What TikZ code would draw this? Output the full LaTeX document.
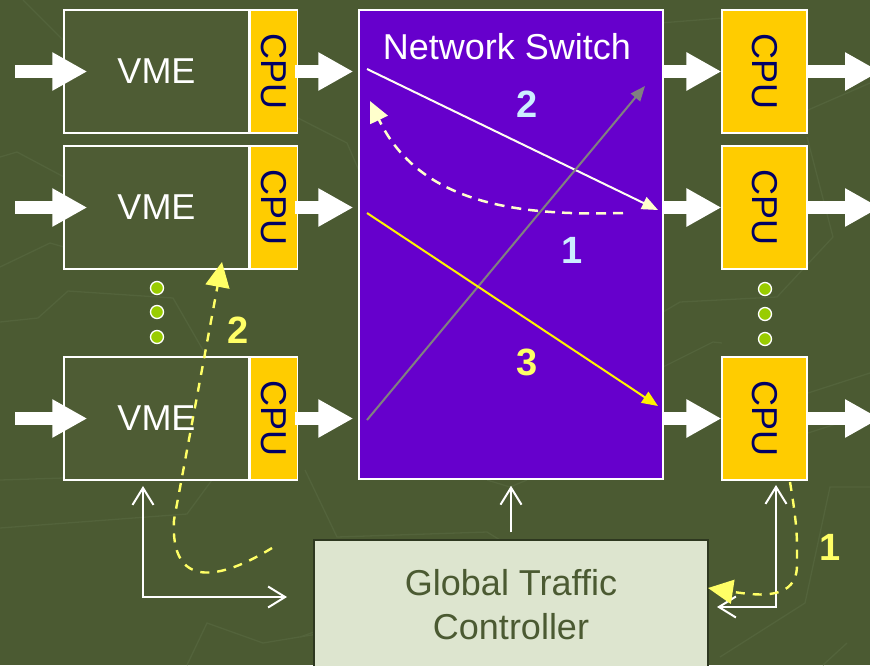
\documentclass[tikz,border=0pt]{standalone}
\usepackage{fontspec}
\usepackage{graphicx}
\setmainfont{Liberation Sans}
\usetikzlibrary{arrows.meta,calc}

\definecolor{olivebg}{HTML}{4B5A32}
\definecolor{olivebox}{HTML}{4E5C34}
\definecolor{olivetrace}{HTML}{53633B}
\definecolor{cpuyellow}{HTML}{FFCC00}
\definecolor{cpunavy}{HTML}{000066}
\definecolor{switchpurple}{HTML}{6600CC}
\definecolor{gtcfill}{HTML}{DDE5CF}
\definecolor{gtcedge}{HTML}{2E3820}
\definecolor{gtctext}{HTML}{4B5A32}
\definecolor{routeblue}{HTML}{CCEEFF}
\definecolor{routeyellow}{HTML}{FFFF66}
\definecolor{cream}{HTML}{FFFFCC}
\definecolor{dotgreen}{HTML}{99CC00}

\tikzset{
  bigfont/.style={font=\fontsize{36}{44}\selectfont},
  vmebox/.style={draw=white, line width=1.5pt, fill=olivebox, minimum width=185pt,
    minimum height=123pt, inner sep=0pt, text=white, bigfont},
  cpubox/.style={draw=white, line width=1.2pt, fill=cpuyellow, inner sep=0pt,
    text=cpunavy, bigfont, minimum height=123pt},
  switchbox/.style={draw=white, line width=1.5pt, fill=switchpurple, minimum width=304pt,
    minimum height=469pt, inner sep=0pt},
  gtcbox/.style={draw=gtcedge, line width=1.5pt, fill=gtcfill, minimum width=394pt,
    minimum height=130pt, inner sep=0pt, text=gtctext, bigfont, align=center},
  blockarrow/.style={white, line width=13pt, -{Triangle[length=35pt,width=36pt]}},
  barb/.tip={Straight Barb[length=17pt,width=21pt]},
  ctrl/.style={white, line width=2pt, -barb},
  ctrlboth/.style={white, line width=2pt, barb-barb},
  dot/.style={circle, draw=white, line width=1.3pt, fill=dotgreen, minimum size=13pt, inner sep=0pt},
  digit/.style={font=\fontsize{38}{44}\selectfont\bfseries, inner sep=0pt},
  yroute/.style={routeyellow, line width=2.4pt, dash pattern=on 9pt off 8pt,
    -{Triangle[length=25pt,width=24pt]}},
  trace/.style={olivetrace, line width=1.3pt},
}

\begin{document}
\begin{tikzpicture}[x=1pt, y=-1pt]
\useasboundingbox (0,0) rectangle (870,665);
\fill[olivebg] (0,0) rectangle (870,665);

% faint circuit traces in the backdrop
\draw[trace] (23,0) -- (63,40);
\draw[trace] (0,157) -- (17,152) -- (64,177);
\draw[trace] (0,267) -- (50,243) -- (64,247);
\draw[trace] (296,117) -- (347,143) -- (360,173);
\draw[trace] (0,322) -- (38,318) -- (68,291) -- (173,298) -- (207,357);
\draw[trace] (0,480) -- (64,478);
\draw[trace] (0,528) -- (187,514) -- (212,480);
\draw[trace] (187,665) -- (207,623) -- (263,643) -- (360,627);
\draw[trace] (660,23) -- (723,18);
\draw[trace] (807,137) -- (833,237) -- (777,297) -- (680,302) -- (663,312);
\draw[trace] (870,83) -- (808,110);
\draw[trace] (663,367) -- (713,342) -- (722,343);
\draw[trace] (808,393) -- (870,373);
\draw[trace] (808,433) -- (870,413);
\draw[trace] (870,487) -- (830,487) -- (805,603) -- (720,657);
\draw[trace] (847,643) -- (823,665);
\draw[trace] (305,470) -- (337,537) -- (487,532) -- (500,540);
\draw[trace] (300,637) -- (314,632);
\draw[trace] (487,480) -- (510,487) -- (527,480);

% VME cards with their CPUs
\node[vmebox] (vme1) at (156.5,71.5) {VME};
\node[vmebox] (vme2) at (156.5,207.5) {VME};
\node[vmebox] (vme3) at (156.5,418.5) {VME};
\node[cpubox, minimum width=47pt, anchor=west] (cl1) at (vme1.east) {\rotatebox{-90}{CPU}};
\node[cpubox, minimum width=47pt, anchor=west] (cl2) at (vme2.east) {\rotatebox{-90}{CPU}};
\node[cpubox, minimum width=47pt, anchor=west] (cl3) at (vme3.east) {\rotatebox{-90}{CPU}};

\node[dot] (dl1) at (157,288) {};
\node[dot] (dl2) at (157,312) {};
\node[dot] (dl3) at (157,337) {};

% switch
\node[switchbox] (sw) at (511,244.5) {};
\node[bigfont, text=white, inner sep=0pt] (swtitle) at (507,47) {Network Switch};

% output CPUs
\node[cpubox, minimum width=85pt] (cr1) at (764.5,71.5) {\rotatebox{-90}{CPU}};
\node[cpubox, minimum width=85pt] (cr2) at (764.5,207.5) {\rotatebox{-90}{CPU}};
\node[cpubox, minimum width=85pt] (cr3) at (764.5,418.5) {\rotatebox{-90}{CPU}};

\node[dot] (dr1) at (765,289) {};
\node[dot] (dr2) at (765,314) {};
\node[dot] (dr3) at (765,339) {};

% traffic controller
\node[gtcbox] (gtc) at (511,605) {Global Traffic\\Controller};

% data flow arrows
\coordinate (in1) at (15,71.5);
\coordinate (in2) at (15,207.5);
\coordinate (in3) at (15,418.5);
\coordinate (out1) at (880,71.5);
\coordinate (out2) at (880,207.5);
\coordinate (out3) at (880,418.5);
\foreach \i in {1,2,3} {
  \draw[blockarrow, shorten >=-24pt] (in\i) -- (vme\i.west);
  \draw[blockarrow, shorten <=-3pt, shorten >=5pt] (cl\i.east) -- (cl\i.east -| sw.west);
  \draw[blockarrow, shorten <=-2pt] (cr\i.west -| sw.east) -- (cr\i.west);
  \draw[blockarrow, shorten <=-1pt] (cr\i.east) -- (out\i);
}

% routes through the switch
\coordinate (w1s) at (367,69);
\coordinate (w1e) at (658,210);
\coordinate (d1s) at (623,213);
\coordinate (d1e) at (370,101);
\coordinate (g1s) at (367,420);
\coordinate (g1e) at (645,86);
\coordinate (y1s) at (367,213);
\coordinate (y1e) at (658,406);
\draw[white!95!yellow, line width=2pt, -{Triangle[length=16pt,width=13pt,color=cream]}] (w1s) -- (w1e);
\draw[cream, line width=2.5pt, dash pattern=on 10pt off 7pt, -{Triangle[length=21pt,width=19pt]}]
  (d1s) .. controls (520,216) and (420,205) .. (d1e);
\draw[gray, line width=2pt, -{Triangle[length=15pt,width=12pt]}] (g1s) -- (g1e);
\draw[yellow, line width=2pt, -{Triangle[length=16pt,width=13pt]}] (y1s) -- (y1e);

\node[digit, text=routeblue] (n2) at (527,104) {2};
\node[digit, text=routeblue] (n1) at (572,250) {1};
\node[digit, text=routeyellow] (n3) at (527,362) {3};

% control links from the traffic controller
\draw[ctrl, shorten <=7pt, shorten >=6pt] (gtc) -- (sw);
\coordinate (lup) at (143,486);
\coordinate (lend) at (287,597);
\draw[ctrlboth] (lup) |- (lend);
\coordinate (rup) at (776,485);
\coordinate (rend) at (717,607);
\draw[ctrlboth] (rup) |- (rend);

% request and reply paths
\coordinate (ys1) at (272,548);
\coordinate (ye1) at (222,262);
\draw[yroute] (ys1) .. controls (220,580) and (170,590) .. (174,520) -- (ye1);
\coordinate (ys2) at (790,482);
\coordinate (ye2) at (708,588);
\draw[yroute] (ys2) .. controls (798,530) and (797,540) .. (797,565)
  .. controls (797,600) and (760,596) .. (ye2);

\node[digit, text=routeyellow] (lab2) at (238,330) {2};
\node[digit, text=routeyellow] (lab1) at (830,547) {1};
\end{tikzpicture}
\end{document}
